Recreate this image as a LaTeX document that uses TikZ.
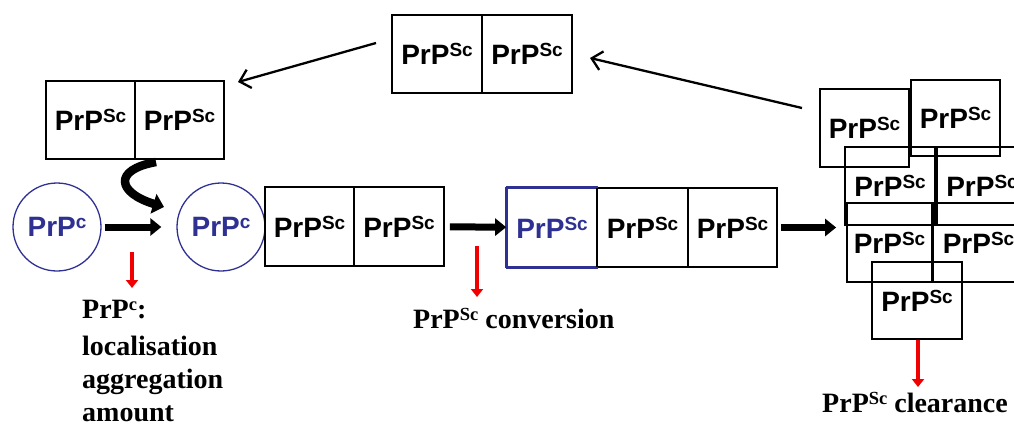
\documentclass[tikz,border=0pt]{standalone}
\usepackage{fontspec}
\setmainfont{Liberation Serif}
\setsansfont{Liberation Sans}
\usetikzlibrary{arrows.meta}
\definecolor{prpblue}{RGB}{46,49,146}
\definecolor{prpred}{RGB}{240,0,0}
\newcommand{\supb}[1]{\raisebox{8pt}{\fontsize{19}{19}\selectfont #1}}
\newcommand{\supa}[1]{\raisebox{8pt}{\fontsize{18.5}{18}\selectfont #1}}
\tikzset{
  boxfont/.style={font=\sffamily\bfseries\fontsize{28}{30}\selectfont},
  prpbox/.style={draw, line width=1.7pt, rectangle, minimum width=90pt, minimum height=79pt, inner sep=0pt, boxfont},
  prpcirc/.style={draw=prpblue, line width=1.3pt, circle, minimum size=88pt, inner sep=0pt, boxfont, text=prpblue},
  thickarrow/.style={line width=7pt, -{Triangle[length=11pt,width=17pt]}},
  thinarrow/.style={line width=2.3pt, -{Straight Barb[length=10pt,width=19pt]}},
  curvyarrow/.style={line width=8.5pt, -{Triangle[length=11pt,width=20pt]}},
  redarrow/.style={draw=prpred, line width=4pt, -{Triangle[length=8pt,width=12pt]}},
  ann/.style={font=\bfseries\fontsize{28}{34}\selectfont, inner sep=0pt, anchor=base west}
}
\begin{document}
\begin{tikzpicture}[x=1pt,y=-1pt]
\useasboundingbox (0,0) rectangle (1014,425);
\clip (0,0) rectangle (1014,425);
% top pair
\node[prpbox, minimum height=78pt] (T1) at (437,54) {PrP\supb{Sc}};
\node[prpbox, minimum height=78pt] (T2) at (527,54) {PrP\supb{Sc}};
% upper-left pair
\node[prpbox, minimum width=89pt, minimum height=78pt] (L1) at (90.5,120) {PrP\supb{Sc}};
\node[prpbox, minimum width=89pt, minimum height=78pt] (L2) at (179.5,120) {PrP\supb{Sc}};
% circles
\node[prpcirc] (C1) at (57,227) {PrP\supb{c}};
\node[prpcirc] (C2) at (221,227) {PrP\supb{c}};
% middle pair
\node[prpbox, minimum width=89pt] (M1) at (309.5,226.5) {PrP\supb{Sc}};
\node[prpbox] (M2) at (399,226.5) {PrP\supb{Sc}};
% blue chain
\node[prpbox, draw=prpblue, text=prpblue] (B1) at (552,227.5) {PrP\supb{Sc}};
\node[prpbox, minimum width=91pt] (B2) at (642.5,227.5) {PrP\supb{Sc}};
\node[prpbox, minimum width=89pt] (B3) at (732.5,227.5) {PrP\supb{Sc}};
\draw[draw=prpblue, line width=1.7pt] (B1.north west) -- (B1.north east) (B1.south west) -- (B1.south east) (B1.north west) -- (B1.south west);
% cluster
\node[prpbox, minimum width=89pt, minimum height=78pt] (KA) at (864.5,128) {PrP\supb{Sc}};
\node[prpbox, minimum width=89pt, minimum height=76pt] (KB) at (955.5,118) {PrP\supb{Sc}};
\node[prpbox, minimum height=78pt] (KC) at (890,186) {PrP\supb{Sc}};
\node[prpbox, minimum height=78pt] (KD) at (982,186) {PrP\supb{Sc}};
\node[prpbox, minimum width=85pt, minimum height=79pt] (KE) at (889.5,242.5) {PrP\supb{Sc}};
\node[prpbox, minimum width=91pt, minimum height=79pt] (KF) at (978.5,242.5) {PrP\supb{Sc}};
\node[prpbox, minimum height=77pt] (KG) at (917,300.5) {PrP\supb{Sc}};
% thick arrows
\draw[thickarrow, shorten <=3pt, shorten >=15pt] (C1) -- (C2);
\draw[thickarrow, shorten <=5pt] (M2) -- (B1);
\draw[thickarrow, shorten <=3pt, shorten >=8pt] (B3.east) -- (KC.west |- B3.east);
% thin arrows
\coordinate (a1s) at (802,108);
\coordinate (a1e) at (590,58);
\coordinate (a2s) at (376,43);
\coordinate (a2e) at (238,82);
\draw[thinarrow] (a1s) -- (a1e);
\draw[thinarrow] (a2s) -- (a2e);
% curved arrow
\coordinate (cs) at (156,162);
\coordinate (ce) at (164,207);
\draw[curvyarrow] (cs) .. controls (112,170) and (118,193) .. (ce);
% red arrows
\coordinate (r1s) at (132,252);
\coordinate (r1e) at (132,288);
\coordinate (r2s) at (477,246);
\coordinate (r2e) at (477,297);
\coordinate (r3s) at (918,340);
\coordinate (r3e) at (918,387);
\draw[redarrow] (r1s) -- (r1e);
\draw[redarrow] (r2s) -- (r2e);
\draw[redarrow] (r3s) -- (r3e);
% annotations
\node[ann] (n1) at (82,318) {PrP\supa{c}:};
\node[ann] (n2) at (82,355) {localisation};
\node[ann] (n3) at (82,388) {aggregation};
\node[ann] (n4) at (82,421) {amount};
\node[ann] (n5) at (413,328) {PrP\supa{Sc} conversion};
\node[ann] (n6) at (822,412) {PrP\supa{Sc} clearance};
\end{tikzpicture}
\end{document}
